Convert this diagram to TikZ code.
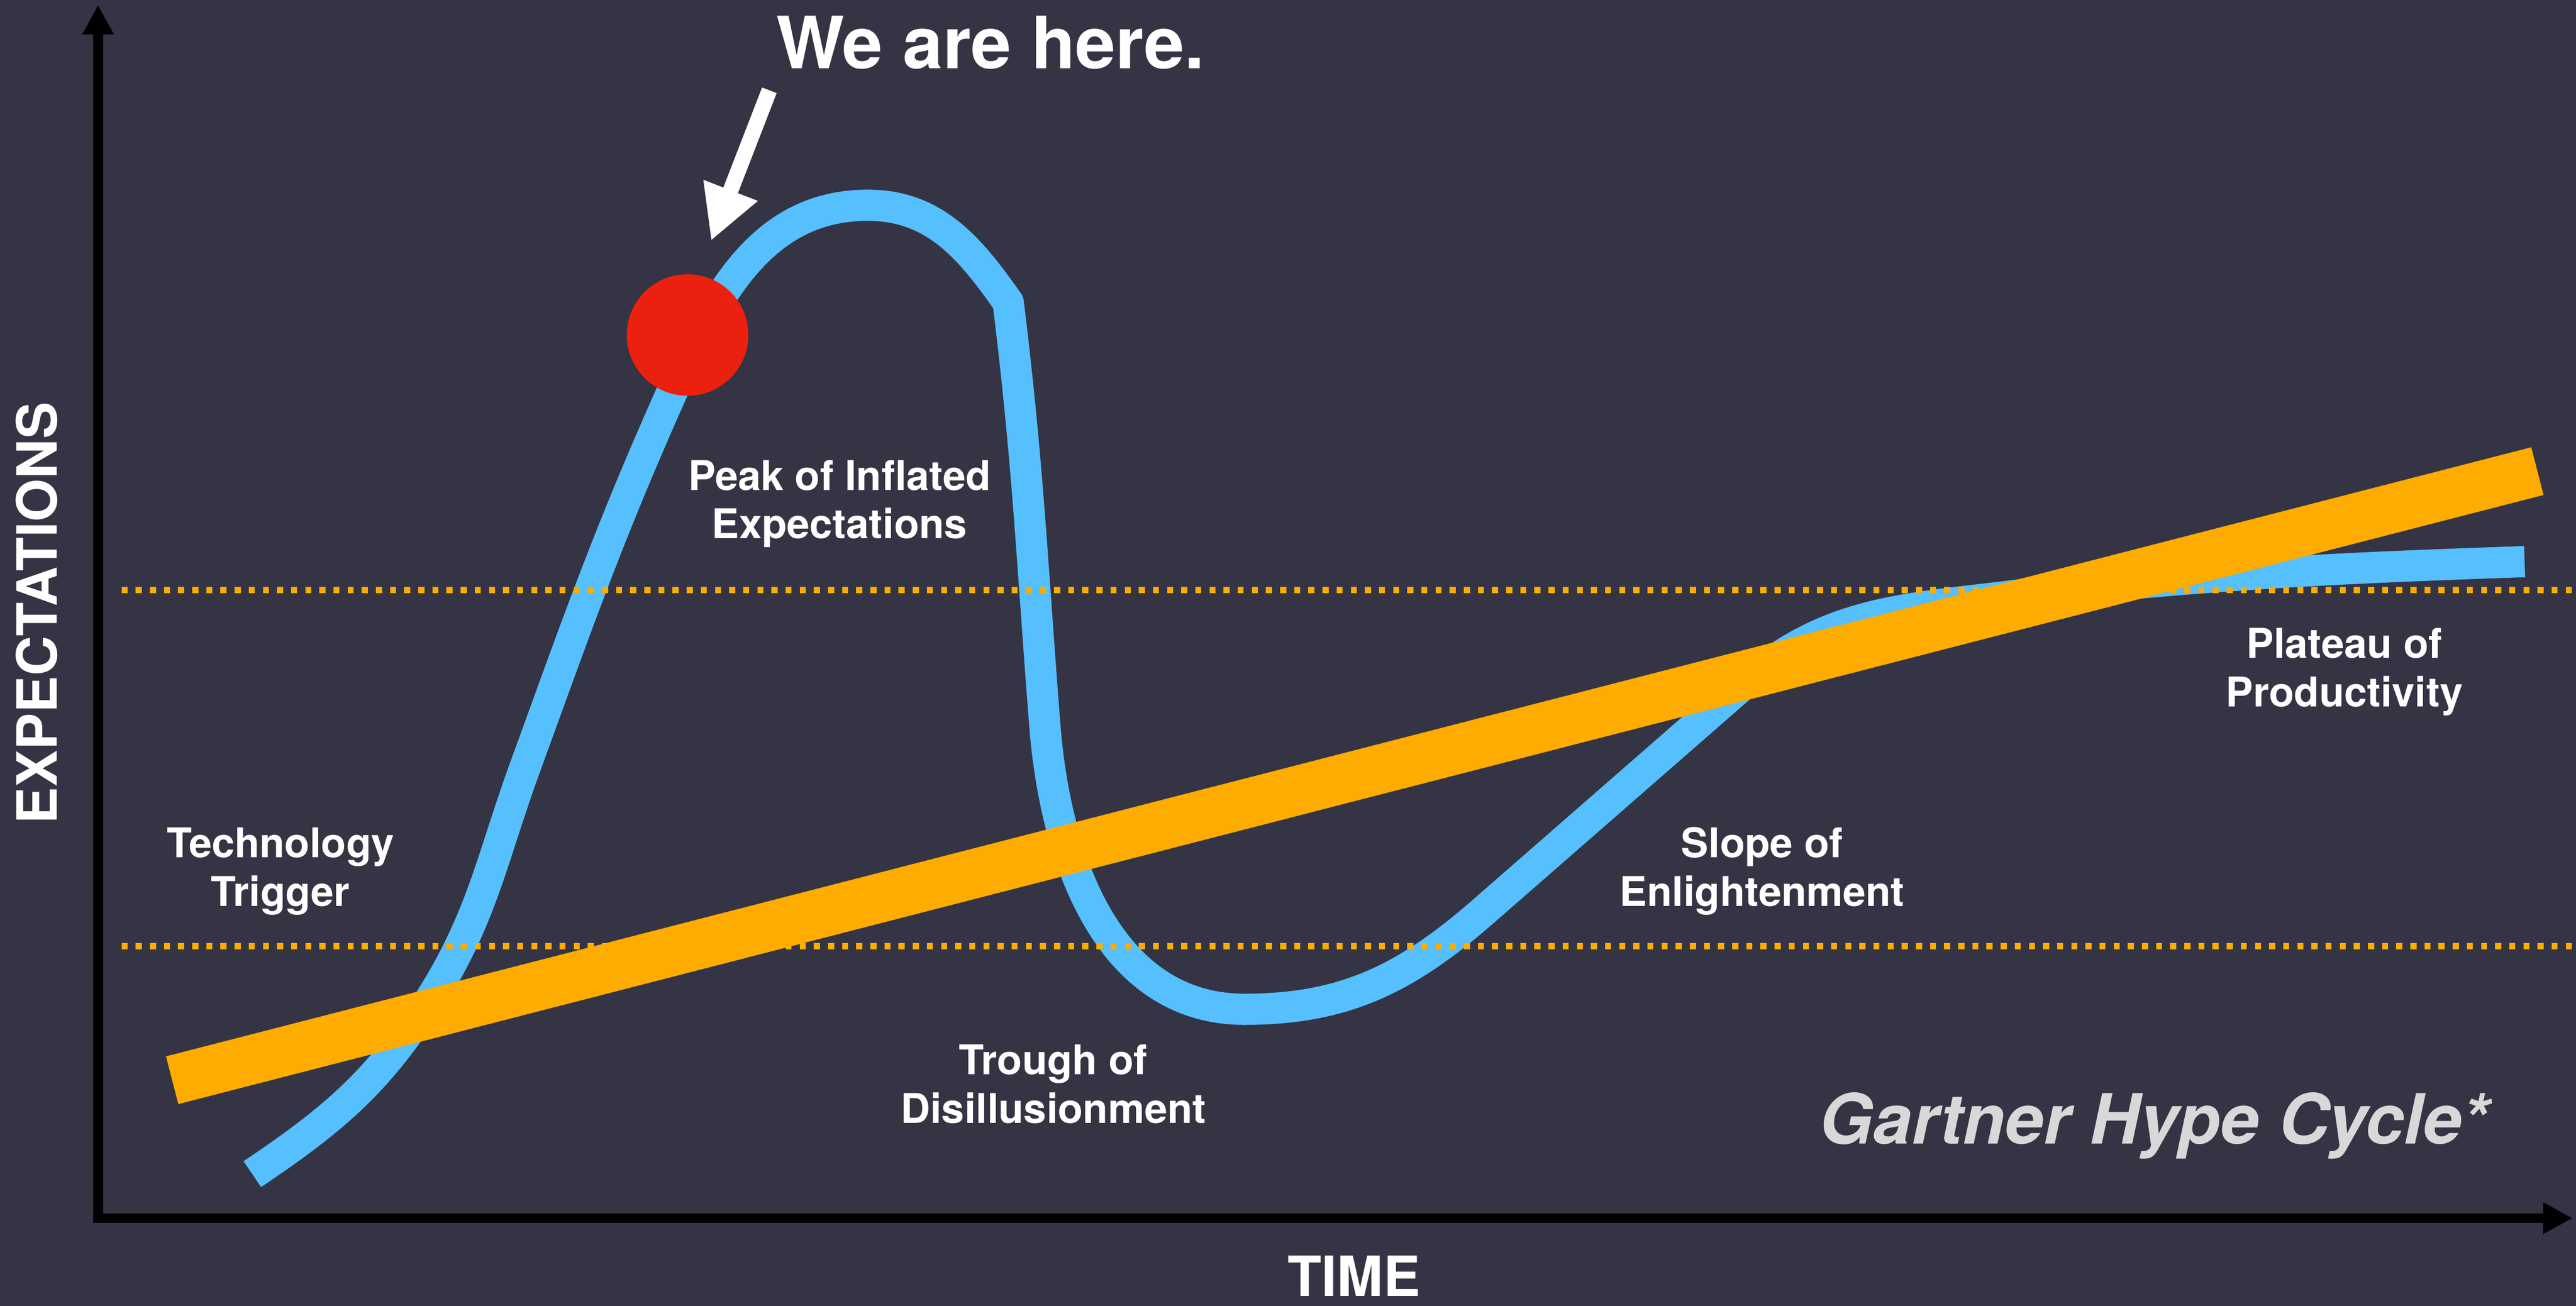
\documentclass[tikz,border=0pt]{standalone}
\usepackage{fontspec}
\setmainfont{TeX Gyre Heros}
\usetikzlibrary{positioning,arrows.meta}

\definecolor{backdrop}{RGB}{52,52,68}
\definecolor{hypeblue}{RGB}{86,191,254}
\definecolor{trendorange}{RGB}{254,172,0}
\definecolor{dotred}{RGB}{236,32,14}
\definecolor{brandgrey}{RGB}{216,216,216}

\begin{document}
\begin{tikzpicture}[x=0.1mm, y=-0.1mm,
        stage/.style={text=white, align=center, anchor=base, inner sep=0pt,
            font=\fontsize{7.1pt}{8.42pt}\selectfont\bfseries},
        axislabel/.style={text=white, anchor=base, inner sep=0pt,
            font=\fontsize{9.6pt}{11pt}\selectfont\bfseries},
        levelline/.style={trendorange, line width=0.37mm, dash pattern=on 0.37mm off 0.49mm},
        hype/.style={hypeblue, line width=1.9mm, line join=round},
        trend/.style={trendorange, line width=3mm},
        axisline/.style={black, line width=0.6mm,
            {Triangle[length=1.8mm,width=1.8mm]}-{Triangle[length=1.8mm,width=1.8mm]}},
        pointer/.style={white, line width=0.95mm, -{Triangle[length=3.3mm,width=3.3mm]}}]
        \fill[backdrop] (0,0) rectangle (1568,795.27);
        \useasboundingbox (0,0) rectangle (1568,795.27);

        \coordinate (origin) at (59.7,741.8);
        \coordinate (y_top) at (59.7,3);
        \coordinate (x_end) at (1566,741.8);
        \draw[axisline] (y_top) -- (origin) -- (x_end);

        \coordinate (hype_start) at (153.6,715);
        \coordinate (hype_rise) at (261.4,609.4);
        \coordinate (hype_steep) at (319.6,467.2);
        \coordinate (hype_dot) at (408.6,239.7);
        \coordinate (hype_peak) at (528.2,125);
        \coordinate (hype_shoulder) at (613.7,184.2);
        \coordinate (hype_drop) at (636,442);
        \coordinate (hype_trough) at (757.5,614.6);
        \coordinate (hype_climb) at (902.4,555.4);
        \coordinate (hype_bend) at (1062,416);
        \coordinate (hype_plateau) at (1231,362);
        \coordinate (hype_end) at (1536.7,342);
        \draw[hype] (hype_start) to[out=34,in=237.6] (hype_rise) to[out=57.6,in=250] (hype_steep)
            to[out=70,in=246] (hype_dot) to[out=66,in=180] (hype_peak) to[out=0,in=125] (hype_shoulder)
            to[out=-83,in=94.5] (hype_drop) to[out=-85.5,in=180] (hype_trough)
            to[out=0,in=221] (hype_climb) -- (hype_bend) to[out=41,in=187.5] (hype_plateau)
            to[out=6,in=182] (hype_end);

        \coordinate (upper_left) at (74,359.3);
        \coordinate (lower_left) at (74,576.1);
        \draw[levelline] (upper_left) -- ++(1494,0);
        \draw[levelline] (lower_left) -- ++(1494,0);

        \coordinate (trend_start) at (104.8,657.8);
        \coordinate (trend_end) at (1544.5,286.9);
        \draw[trend] (trend_start) -- (trend_end);

        \node (red_dot) [circle, fill=dotred, minimum size=7.4mm, inner sep=0pt] at (418.5,204) {};
        \node (here_label) [text=white, anchor=base west, inner sep=0pt,
            font=\fontsize{12.5pt}{14pt}\selectfont\bfseries] at (471.8,41.7) {We are here.};
        \coordinate [below left = 1.33mm and 0.35mm of here_label.base west] (here_tail);
        \coordinate [above right = 5.73mm and 1.43mm of red_dot.center] (here_tip);
        \draw[pointer] (here_tail) -- (here_tip);

        \node (trigger_label) [stage] at (170.7,551.8) {Technology\\Trigger};
        \node (peak_label) [stage] at (511,328) {Peak of Inflated\\Expectations};
        \node (trough_label) [stage] at (641.2,683.9) {Trough of\\Disillusionment};
        \node (slope_label) [stage] at (1072.6,551.7) {Slope of\\Enlightenment};
        \node (plateau_label) [stage] at (1427,430.3) {Plateau of\\Productivity};

        \node (brand_label) [text=brandgrey, anchor=base east, inner sep=0pt,
            font=\fontsize{12pt}{14pt}\selectfont\bfseries\itshape] at (1515.5,696.6) {Gartner Hype Cycle*};
        \node (y_label) [axislabel, rotate=90] at (34.5,373.3) {EXPECTATIONS};
        \node (x_label) [axislabel] at (824.2,789.2) {TIME};
    \end{tikzpicture}
\end{document}
